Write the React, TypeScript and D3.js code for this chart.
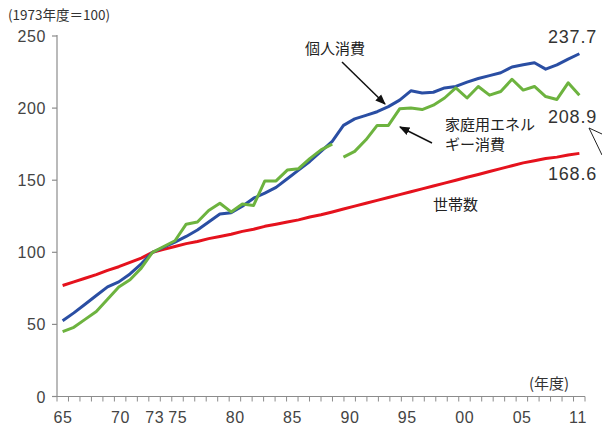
import React from "react";
import * as d3 from "d3";

const years = d3.range(1965, 2012);

// 個人消費
const consumption = [
  52.5, 58, 64, 70, 76, 79.5, 85, 92, 100, 103.5,
  107, 111, 115.5, 121, 126.5, 127.5, 132, 137.5, 141, 145,
  151, 157, 163, 170, 177, 188, 192.5, 195, 197.5, 201,
  205.5, 212, 210.5, 211, 214, 215, 218, 220.5, 222.5, 224.5,
  228.5, 230, 231.5, 227, 230, 234, 237.7,
];

// 家庭用エネルギー消費 (1965-1989)
const energyOldYears = d3.range(1965, 1990);
const energyOld = [
  45, 48, 53.5, 59, 67.5, 76, 81, 89, 100, 104,
  108, 119.5, 121, 129, 134, 128, 133.5, 132.5, 149.5, 149.5,
  157, 158, 165, 171, 175,
];

// 家庭用エネルギー消費 (1990-2011)
const energyNewYears = d3.range(1990, 2012);
const energyNew = [
  166, 170, 178, 188, 188, 199.5, 200, 199, 202, 207,
  214, 207, 215, 209, 211.5, 220, 212.5, 215, 208, 206,
  217.5, 208.9,
];

// 世帯数
const households = [
  77, 79.5, 82, 84.5, 87.5, 90, 93, 96, 100, 102,
  104, 106, 107.5, 109.5, 111, 112.5, 114.5, 116, 118, 119.5,
  121, 122.5, 124.5, 126, 128, 130, 132, 134, 136, 138,
  140, 142, 144, 146, 148, 150, 152, 154, 156, 158,
  160, 162, 163.5, 165, 166, 167.5, 168.6,
];

const yTicks = [0, 50, 100, 150, 200, 250];
const xLabelYears = [1965, 1970, 1973, 1975, 1980, 1985, 1990, 1995, 2000, 2005, 2011];
const xLabelTexts = ["65", "70", "73", "75", "80", "85", "90", "95", "00", "05", "11"];

const endLabels = ["237.7", "208.9", "168.6"];

const W = 602;
const H = 430;
const left = 57;
const right = 585;
const top = 36;
const bottom = 396.5;

const NUM_FONT = "'Liberation Sans', Arial, sans-serif";
const JP_FONT = "'Noto Sans CJK JP', sans-serif";

export default function App() {
  const x = d3.scalePoint<number>().domain(years).range([left, right]).padding(0.5);
  const tickX = d3.scaleLinear().domain([1965, 2011]).range([left, right]);
  const y = d3.scaleLinear().domain([0, 250]).range([bottom, top]);

  const line = d3
    .line<[number, number]>()
    .x((d) => x(d[0]) as number)
    .y((d) => y(d[1]));

  const pair = (ys: number[], vs: number[]) => ys.map((yr, i) => [yr, vs[i]] as [number, number]);

  const series = [
    { d: pair(years, households), color: "#e5121d" },
    { d: pair(years, consumption), color: "#2a4ea3" },
    { d: pair(energyOldYears, energyOld), color: "#6db33f" },
    { d: pair(energyNewYears, energyNew), color: "#6db33f" },
  ];

  const labelX = (yr: number, i: number) =>
    i === xLabelYears.length - 1 ? tickX(yr) - 7 : tickX(yr) + 6;

  return (
    <svg
      width={W}
      height={H}
      style={{ position: "absolute", left: 0, top: 0, background: "#fff" }}
    >
      <defs>
        <marker
          id="arr"
          viewBox="0 0 10 10"
          refX="9"
          refY="5"
          markerWidth="7"
          markerHeight="7"
          orient="auto"
        >
          <path d="M0,1 L10,5 L0,9 z" fill="#111" />
        </marker>
      </defs>

      <text x={8} y={20} fontFamily={JP_FONT} fontSize={13.5} fill="#333">
        (1973年度＝100)
      </text>

      {/* y axis */}
      <line x1={left} x2={left} y1={top - 1} y2={bottom} stroke="#8c8c8c" strokeWidth={1.2} />
      {yTicks.map((t) => (
        <g key={t}>
          <line x1={left - 5} x2={left} y1={y(t)} y2={y(t)} stroke="#8c8c8c" strokeWidth={1.2} />
          <text
            x={46}
            y={y(t) + 6}
            textAnchor="end"
            fontFamily={NUM_FONT}
            fontSize={16}
            letterSpacing={0.6}
            fill="#444"
          >
            {t}
          </text>
        </g>
      ))}

      {/* x axis */}
      <line x1={left} x2={right} y1={bottom} y2={bottom} stroke="#8c8c8c" strokeWidth={1.2} />
      {years.map((yr) => (
        <line
          key={yr}
          x1={tickX(yr)}
          x2={tickX(yr)}
          y1={bottom}
          y2={bottom + 5}
          stroke="#8c8c8c"
          strokeWidth={1}
        />
      ))}
      {xLabelYears.map((yr, i) => (
        <text
          key={yr}
          x={labelX(yr, i)}
          y={423}
          textAnchor="middle"
          fontFamily={NUM_FONT}
          fontSize={16}
          letterSpacing={0.6}
          fill="#444"
        >
          {xLabelTexts[i]}
        </text>
      ))}
      <text x={529} y={389} fontFamily={JP_FONT} fontSize={15} fill="#333">
        (年度)
      </text>

      {/* lines */}
      {series.map((s, i) => (
        <path
          key={i}
          d={line(s.d) as string}
          fill="none"
          stroke={s.color}
          strokeWidth={3}
          strokeLinejoin="round"
        />
      ))}

      {/* end labels */}
      {endLabels.map((t, i) => (
        <text
          key={t}
          x={548}
          y={[43, 123, 180][i]}
          fontFamily={NUM_FONT}
          fontSize={18}
          letterSpacing={0.8}
          fill="#333"
        >
          {t}
        </text>
      ))}
      <line x1={589} y1={128} x2={602} y2={134} stroke="#222" strokeWidth={1} />
      <line x1={589} y1={128} x2={602} y2={155} stroke="#222" strokeWidth={1} />

      {/* annotations */}
      <text x={305} y={54} fontFamily={JP_FONT} fontSize={15} fill="#222">
        個人消費
      </text>
      <line x1={342} y1={62} x2={385} y2={104} stroke="#111" strokeWidth={1.5} markerEnd="url(#arr)" />

      <text x={445} y={130} fontFamily={JP_FONT} fontSize={15} fill="#222">
        家庭用エネル
      </text>
      <text x={445} y={150} fontFamily={JP_FONT} fontSize={15} fill="#222">
        ギー消費
      </text>
      <line x1={432} y1={143} x2={400} y2={127} stroke="#111" strokeWidth={1.5} markerEnd="url(#arr)" />

      <text x={433} y={210} fontFamily={JP_FONT} fontSize={15} fill="#222">
        世帯数
      </text>
    </svg>
  );
}
